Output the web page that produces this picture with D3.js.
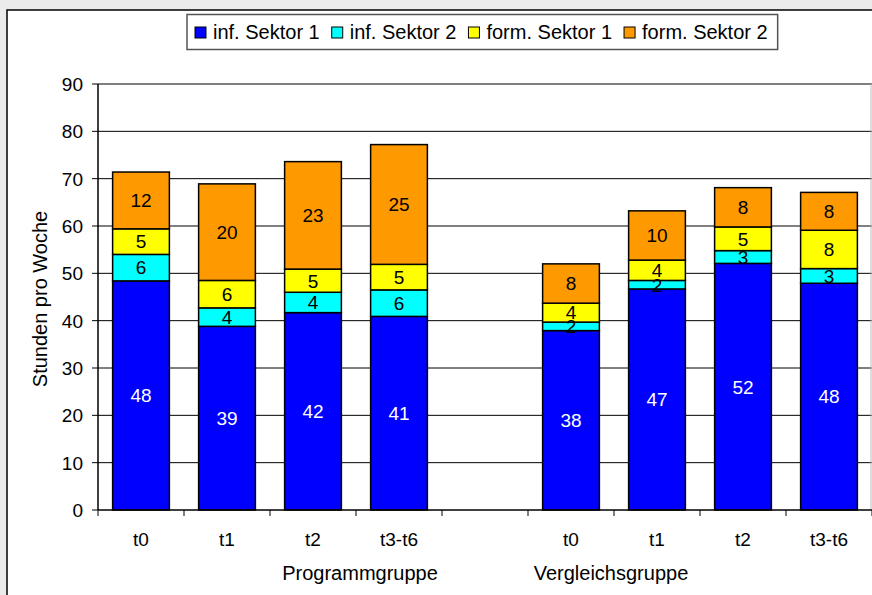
<!DOCTYPE html>
<html>
<head>
<meta charset="utf-8">
<script src="https://cdn.jsdelivr.net/npm/d3@7"></script>
<style>
  html, body { margin: 0; padding: 0; background: #ebebeb; }
  svg { display: block; font-family: "Liberation Sans", Arial, sans-serif; }
</style>
</head>
<body>
<svg id="chart" width="872" height="595"></svg>
<script>
// Stunden pro Woche nach Sektor, je Messzeitpunkt und Gruppe
const timepoints = ["t0", "t1", "t2", "t3-t6"];
const groups = ["Programmgruppe", "Vergleichsgruppe"];
const seriesNames = ["inf. Sektor 1", "inf. Sektor 2", "form. Sektor 1", "form. Sektor 2"];
const seriesColors = ["#0000ff", "#00ffff", "#ffff00", "#ff9900"];
const labelColors = ["#ffffff", "#000000", "#000000", "#000000"];

// Werte: erst Programmgruppe (t0..t3-t6), dann Vergleichsgruppe (t0..t3-t6)
const infSektor1  = [48.4, 38.8, 41.7, 40.9, 37.9, 46.7, 52.1, 47.9];
const infSektor2  = [5.6, 3.9, 4.3, 5.6, 1.8, 1.8, 2.7, 3.1];
const formSektor1 = [5.4, 5.8, 4.9, 5.4, 4.0, 4.3, 5.0, 8.1];
const formSektor2 = [12.0, 20.4, 22.7, 25.3, 8.3, 10.4, 8.3, 8.0];
const yTicks = [0, 10, 20, 30, 40, 50, 60, 70, 80, 90];

const series = [infSektor1, infSektor2, formSektor1, formSektor2];

// slots along the x axis: four program bars, one empty gap, four comparison bars
const slots = [];
groups.forEach((g, gi) => {
  timepoints.forEach(t => slots.push({ key: g + "|" + t, group: g, label: t }));
  if (gi < groups.length - 1) slots.push({ key: "gap", group: null, label: "" });
});
const barSlots = slots.filter(s => s.group !== null);

const rows = barSlots.map((s, i) => {
  const r = { key: s.key };
  seriesNames.forEach((n, k) => { r[n] = series[k][i]; });
  return r;
});
const stacked = d3.stack().keys(seriesNames)(rows);

const svg = d3.select("#chart");

// page frame
svg.append("rect").attr("x", 7).attr("y", 10).attr("width", 900).attr("height", 620)
  .attr("fill", "#ffffff").attr("stroke", "#000").attr("stroke-width", 1.5);

const x = d3.scaleBand().domain(slots.map(s => s.key)).range([98, 872]).padding(0);
const y = d3.scaleLinear().domain([0, 90]).range([510, 84]);
const barW = x.bandwidth() * 0.66;

// horizontal gridlines
svg.append("g").selectAll("line").data(yTicks.filter(v => v > 0)).join("line")
  .attr("x1", 98).attr("x2", 872)
  .attr("y1", d => y(d)).attr("y2", d => y(d))
  .attr("stroke", "#000").attr("stroke-width", 1);

// right edge of the plot area
svg.append("line").attr("x1", 871).attr("x2", 871).attr("y1", y(90)).attr("y2", y(0))
  .attr("stroke", "#bbbbbb").attr("stroke-width", 1);

// stacked bars
const layers = svg.append("g").selectAll("g").data(stacked).join("g")
  .attr("fill", (d, i) => seriesColors[i]);

layers.selectAll("rect").data(d => d).join("rect")
  .attr("x", d => x(d.data.key) + (x.bandwidth() - barW) / 2)
  .attr("width", barW)
  .attr("y", d => y(d[1]))
  .attr("height", d => y(d[0]) - y(d[1]))
  .attr("stroke", "#000").attr("stroke-width", 1.5);

// segment value labels
const fmt = d3.format(".0f");
svg.append("g").selectAll("g").data(stacked).join("g")
  .attr("fill", (d, i) => labelColors[i])
  .selectAll("text").data(d => d).join("text")
  .attr("x", d => x(d.data.key) + x.bandwidth() / 2)
  .attr("y", d => (y(d[0]) + y(d[1])) / 2)
  .attr("dy", "0.36em")
  .attr("text-anchor", "middle")
  .attr("font-size", 19)
  .text(d => fmt(d[1] - d[0]));

// y axis
const yAxis = svg.append("g");
yAxis.append("line").attr("x1", 98).attr("x2", 98).attr("y1", y(90)).attr("y2", y(0))
  .attr("stroke", "#000").attr("stroke-width", 1.5);
yAxis.selectAll("line.tick").data(yTicks).join("line").attr("class", "tick")
  .attr("x1", 92).attr("x2", 98).attr("y1", d => y(d)).attr("y2", d => y(d))
  .attr("stroke", "#000").attr("stroke-width", 1);
yAxis.selectAll("text").data(yTicks).join("text")
  .attr("x", 83).attr("y", d => y(d)).attr("dy", "0.36em")
  .attr("text-anchor", "end").attr("font-size", 19).attr("fill", "#000")
  .text(d => d);

svg.append("text")
  .attr("transform", `translate(47,${(y(0) + y(90)) / 2 + 2}) rotate(-90)`)
  .attr("text-anchor", "middle").attr("font-size", 20).attr("fill", "#000")
  .text("Stunden pro Woche");

// x axis
const xAxis = svg.append("g");
xAxis.append("line").attr("x1", 98).attr("x2", 872).attr("y1", y(0)).attr("y2", y(0))
  .attr("stroke", "#000").attr("stroke-width", 1.5);
const boundaries = slots.map(s => x(s.key)).concat([x(slots[slots.length - 1].key) + x.bandwidth()]);
xAxis.selectAll("line.tick").data(boundaries).join("line").attr("class", "tick")
  .attr("x1", d => d).attr("x2", d => d).attr("y1", y(0)).attr("y2", y(0) + 6)
  .attr("stroke", "#000").attr("stroke-width", 1);
xAxis.selectAll("text.cat").data(barSlots).join("text").attr("class", "cat")
  .attr("x", d => x(d.key) + x.bandwidth() / 2).attr("y", 546)
  .attr("text-anchor", "middle").attr("font-size", 19).attr("fill", "#000")
  .text(d => d.label);

// group labels
const groupAnchor = [x(slots[3].key) + 4, x(slots[6].key) - 3];
xAxis.selectAll("text.grp").data(groups).join("text").attr("class", "grp")
  .attr("x", (d, i) => groupAnchor[i]).attr("y", 580)
  .attr("text-anchor", "middle").attr("font-size", 20).attr("fill", "#000")
  .text(d => d);

// legend
const legend = svg.append("g");
const legendBox = legend.append("rect").attr("x", 187).attr("y", 14.5).attr("height", 35)
  .attr("fill", "#fff").attr("stroke", "#555").attr("stroke-width", 1.5);
let lx = 195;
seriesNames.forEach((n, i) => {
  legend.append("rect").attr("x", lx).attr("y", 27).attr("width", 11).attr("height", 11)
    .attr("fill", seriesColors[i]).attr("stroke", "#000").attr("stroke-width", 1);
  const t = legend.append("text").attr("x", lx + 18).attr("y", 38.5)
    .attr("font-size", 20).attr("fill", "#000").text(n);
  lx += 18 + t.node().getComputedTextLength() + 12;
});
legendBox.attr("width", lx - 12 + 10 - 187);
</script>
</body>
</html>
